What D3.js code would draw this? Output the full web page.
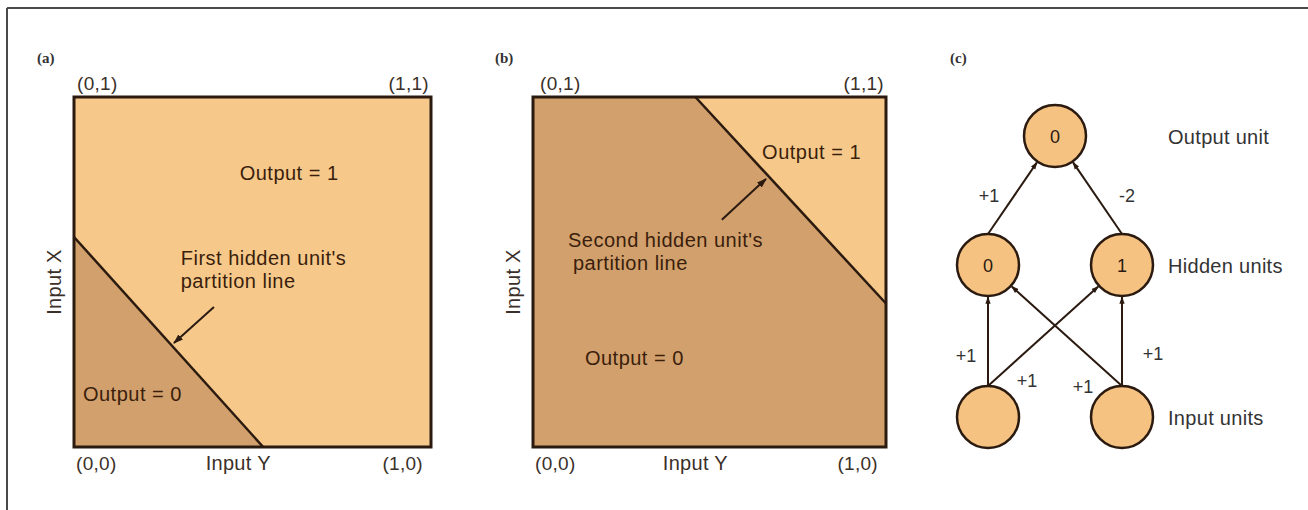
<!DOCTYPE html>
<html>
<head>
<meta charset="utf-8">
<script src="https://cdn.jsdelivr.net/npm/d3@7"></script>
<style>
  html, body { margin: 0; padding: 0; background: #ffffff; }
  svg { display: block; }
</style>
</head>
<body>
<svg id="chart" width="1308" height="510"></svg>
<script>
// ---------------- DATA ----------------
const panelIds = ["a", "b"];
const panelTitles = ["(a)", "(b)", "(c)"];
const cornerLabels = ["(0,1)", "(1,1)", "(0,0)", "(1,0)"];
const axisLabels = ["Input Y", "Input X"];
// partition lines in unit coordinates [inputY, inputX]
const partitionA = [[0, 0.60], [0.53, 0]];
const partitionB = [[0.46, 1], [1, 0.41]];
// region fills (output value) per panel: base region, then the cut-off corner
const regionsA = [{ output: 1, poly: [[0,0],[1,0],[1,1],[0,1]] }, { output: 0, poly: [[0,0],[0,0.60],[0.53,0]] }];
const regionsB = [{ output: 0, poly: [[0,0],[1,0],[1,1],[0,1]] }, { output: 1, poly: [[0.46,1],[1,1],[1,0.41]] }];
const regionTextA = ["Output = 1", "Output = 0"];
const regionTextB = ["Output = 1", "Output = 0"];
const partitionTextA = ["First hidden unit's", "partition line"];
const partitionTextB = ["Second hidden unit's", "partition line"];
// pointer arrows [tail, tip] in unit coordinates
const arrowA = [[0.392, 0.40], [0.28, 0.297]];
const arrowB = [[0.535, 0.649], [0.66, 0.766]];
// network
const layers = ["input", "hidden", "output"];
const layerNames = ["Input units", "Hidden units", "Output unit"];
const nodes = [
  { id: "i0", layer: "input", col: 0, value: "" },
  { id: "i1", layer: "input", col: 1, value: "" },
  { id: "h0", layer: "hidden", col: 0, value: "0" },
  { id: "h1", layer: "hidden", col: 1, value: "1" },
  { id: "o",  layer: "output", col: 0.5, value: "0" }
];
const edges = [
  { s: "h0", t: "o", w: "+1" },
  { s: "h1", t: "o", w: "-2" },
  { s: "i0", t: "h0", w: "+1" },
  { s: "i0", t: "h1", w: "+1" },
  { s: "i1", t: "h0", w: "+1" },
  { s: "i1", t: "h1", w: "+1" }
];

// ---------------- LAYOUT / STYLE ----------------
const svg = d3.select("#chart");
const FONT = "'Liberation Sans', Arial, Helvetica, sans-serif";
const colLight = "#f6c98b";
const colDark = "#d2a06c";
const inkBox = "#2b1a0f";
const inkText = "#3a1e0c";
const inkLabel = "#3b3029";

const defs = svg.append("defs");
defs.append("marker")
  .attr("id", "arrow").attr("viewBox", "0 -4 10 8")
  .attr("refX", 9).attr("refY", 0)
  .attr("markerWidth", 10).attr("markerHeight", 8)
  .attr("markerUnits", "userSpaceOnUse").attr("orient", "auto")
  .append("path").attr("d", "M0,-3.5L10,0L0,3.5Z").attr("fill", "#2a1a10");
defs.append("marker")
  .attr("id", "arrowS").attr("viewBox", "0 -4 10 8")
  .attr("refX", 9).attr("refY", 0)
  .attr("markerWidth", 8).attr("markerHeight", 6)
  .attr("markerUnits", "userSpaceOnUse").attr("orient", "auto")
  .append("path").attr("d", "M0,-3.5L10,0L0,3.5Z").attr("fill", "#2a1a10");

// frame
svg.append("line").attr("x1", 7).attr("y1", 8).attr("x2", 1308).attr("y2", 8)
  .attr("stroke", "#4a4a4a").attr("stroke-width", 2);
svg.append("line").attr("x1", 7).attr("y1", 8).attr("x2", 7).attr("y2", 510)
  .attr("stroke", "#4a4a4a").attr("stroke-width", 2);

// panel titles
const titleX = [37, 495, 950];
panelTitles.forEach((t, i) => {
  svg.append("text").attr("x", titleX[i]).attr("y", 63)
    .attr("font-family", "'Liberation Serif', 'DejaVu Serif', serif")
    .attr("font-weight", "bold").attr("font-size", 15).attr("fill", "#333")
    .text(t);
});

const boxes = {
  a: { x0: 74, x1: 431, y0: 97, y1: 447 },
  b: { x0: 533, x1: 886, y0: 97, y1: 447 }
};
const panelData = {
  a: { regions: regionsA, line: partitionA, arrow: arrowA, regionText: regionTextA, partText: partitionTextA },
  b: { regions: regionsB, line: partitionB, arrow: arrowB, regionText: regionTextB, partText: partitionTextB }
};
// text anchors (unit coordinates) for annotations
const textPos = {
  a: { out1: [0.464, 0.762], out0: [0.025, 0.131], part: [0.299, 0.52] },
  b: { out1: [0.649, 0.824], out0: [0.147, 0.234], part: [0.099, 0.571] }
};

panelIds.forEach(id => {
  const b = boxes[id], d = panelData[id], tp = textPos[id];
  const x = d3.scaleLinear().domain([0, 1]).range([b.x0, b.x1]);
  const y = d3.scaleLinear().domain([0, 1]).range([b.y1, b.y0]);
  const g = svg.append("g");
  const line = d3.line().x(p => x(p[0])).y(p => y(p[1]));

  g.selectAll("path.region").data(d.regions).join("path")
    .attr("class", "region")
    .attr("d", r => line(r.poly) + "Z")
    .attr("fill", r => r.output === 1 ? colLight : colDark);

  // partition line
  g.append("path").attr("d", line(d.line)).attr("stroke", inkBox)
    .attr("stroke-width", 2.5).attr("fill", "none");

  // box
  g.append("rect").attr("x", x(0)).attr("y", y(1))
    .attr("width", x(1) - x(0)).attr("height", y(0) - y(1))
    .attr("fill", "none").attr("stroke", inkBox).attr("stroke-width", 3);

  // pointer arrow
  g.append("path").attr("d", line(d.arrow)).attr("stroke", "#2a1a10")
    .attr("stroke-width", 2).attr("fill", "none").attr("marker-end", "url(#arrow)");

  const txt = (px, py, s, anchor) => g.append("text")
    .attr("x", px).attr("y", py).attr("text-anchor", anchor || "start")
    .attr("font-family", FONT).attr("font-size", 20)
    .attr("letter-spacing", "0.5px").attr("fill", inkText).text(s);

  txt(x(tp.out1[0]), y(tp.out1[1]), d.regionText[0]);
  txt(x(tp.out0[0]), y(tp.out0[1]), d.regionText[1]);
  txt(x(tp.part[0]), y(tp.part[1]), d.partText[0]);
  txt(x(tp.part[0]) + (id === "b" ? 5 : 0), y(tp.part[1]) + 23, d.partText[1]);

  // corner labels
  const cl = (px, py, s, anchor) => g.append("text")
    .attr("x", px).attr("y", py).attr("text-anchor", anchor)
    .attr("font-family", FONT).attr("font-size", 19)
    .attr("letter-spacing", "0.3px").attr("fill", inkLabel).text(s);
  cl(x(0) + (id === "a" ? 3 : 7), y(1) - 7, cornerLabels[0], "start");
  cl(x(1) - 2, y(1) - 7, cornerLabels[1], "end");
  cl(x(0) + 2, y(0) + 23, cornerLabels[2], "start");
  cl(x(1) - 8, y(0) + 23, cornerLabels[3], "end");

  // axis titles
  g.append("text").attr("x", x(0.46)).attr("y", y(0) + 23)
    .attr("text-anchor", "middle").attr("font-family", FONT).attr("font-size", 20)
    .attr("letter-spacing", "0.3px").attr("fill", inkLabel).text(axisLabels[0]);
  g.append("text")
    .attr("transform", `translate(${x(0) - 13},${(y(0) + y(1)) / 2 + 10}) rotate(-90)`)
    .attr("text-anchor", "middle").attr("font-family", FONT).attr("font-size", 20)
    .attr("letter-spacing", "0.3px").attr("fill", inkLabel).text(axisLabels[1]);
});

// ---------------- NETWORK (c) ----------------
const nx = d3.scaleLinear().domain([0, 1]).range([988, 1122]);
const ny = d3.scaleOrdinal().domain(layers).range([417, 265, 136]);
const R = 31;
const byId = {};
nodes.forEach(n => { byId[n.id] = { ...n, x: nx(n.col), y: ny(n.layer) }; });

const gN = svg.append("g");
const edgeGeom = edges.map(e => {
  const s = byId[e.s], t = byId[e.t];
  const sx = s.x, sy = s.y - R;
  const dx = t.x - sx, dy = t.y - sy, L = Math.hypot(dx, dy);
  return { ...e, x1: sx, y1: sy, x2: t.x - dx / L * (R + 1), y2: t.y - dy / L * (R + 1) };
});
gN.selectAll("line.edge").data(edgeGeom).join("line")
  .attr("class", "edge")
  .attr("x1", d => d.x1).attr("y1", d => d.y1)
  .attr("x2", d => d.x2).attr("y2", d => d.y2)
  .attr("stroke", "#2a1a10").attr("stroke-width", 2)
  .attr("marker-end", "url(#arrowS)");

gN.selectAll("circle.node").data(Object.values(byId)).join("circle")
  .attr("class", "node")
  .attr("cx", d => d.x).attr("cy", d => d.y).attr("r", R)
  .attr("fill", "#f5c282").attr("stroke", "#2b1a0f").attr("stroke-width", 2.5);

gN.selectAll("text.val").data(Object.values(byId)).join("text")
  .attr("class", "val")
  .attr("x", d => d.x).attr("y", d => d.y + 6.5)
  .attr("text-anchor", "middle").attr("font-family", FONT).attr("font-size", 18)
  .attr("fill", "#2a1a10").text(d => d.value);

// weight label positions
const weightPos = [[989, 202], [1127, 202], [966, 362], [1027, 387], [1083, 393], [1153, 360]];
gN.selectAll("text.w").data(edgeGeom).join("text")
  .attr("class", "w")
  .attr("x", (d, i) => weightPos[i][0]).attr("y", (d, i) => weightPos[i][1])
  .attr("text-anchor", "middle").attr("font-family", FONT).attr("font-size", 18)
  .attr("fill", "#333").text(d => d.w);

gN.selectAll("text.layer").data(layers).join("text")
  .attr("class", "layer")
  .attr("x", 1168).attr("y", d => ny(d) + 8)
  .attr("font-family", FONT).attr("font-size", 20).attr("letter-spacing", "0.3px")
  .attr("fill", "#333").text((d, i) => layerNames[i]);
</script>
</body>
</html>
